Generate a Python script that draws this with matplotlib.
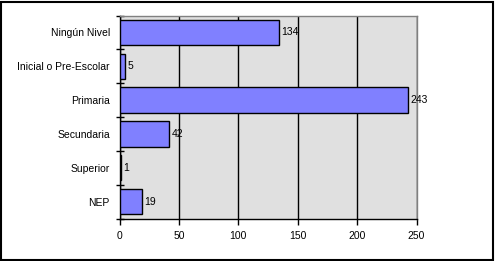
import matplotlib
matplotlib.use("Agg")
import matplotlib.pyplot as plt
from matplotlib.patches import Rectangle

categories = ["Ningún Nivel", "Inicial o Pre-Escolar", "Primaria", "Secundaria", "Superior", "NEP"]
values = [134, 5, 243, 42, 1, 19]

plt.rcParams['font.family'] = ['Liberation Sans', 'DejaVu Sans']
W, H = 495, 261
fig = plt.figure(figsize=(W/100, H/100), dpi=100)
fig.patches.append(Rectangle((1/W, 1/H), (W-3)/W, (H-3)/H, transform=fig.transFigure,
                             fill=False, edgecolor='black', linewidth=1.5))
L, R, T, B = 119.5, 416.5, 15.5, 218.5
ax = fig.add_axes([L/W, 1 - B/H, (R-L)/W, (B-T)/H])
ax.set_facecolor('#E0E0E0')
n = len(categories)
ypos = list(range(n))
ax.barh(ypos, values, height=0.75, color='#8080FF', edgecolor='black', linewidth=1.0, zorder=3)
for y, v in zip(ypos, values):
    ax.text(v + 2, y, str(v), va='center', ha='left', fontsize=7.5, zorder=4)
ax.set_xlim(0, 250)
ax.set_ylim(n - 0.5, -0.5)
ax.set_xticks([0, 50, 100, 150, 200, 250])
ax.tick_params(axis='x', direction='out', length=4, width=1, labelsize=7.5, pad=5)
ax.set_yticks(ypos)
ax.set_yticklabels(categories, fontsize=7.5)
ax.tick_params(axis='y', length=0, pad=7)
# category boundary ticks
ax.set_yticks([i - 0.5 for i in range(n + 1)], minor=True)
ax.tick_params(axis='y', which='minor', direction='inout', length=6, width=1)
ax.xaxis.grid(True, color='black', linewidth=1, zorder=1)
ax.set_axisbelow(True)
for s in ['left', 'bottom']:
    ax.spines[s].set_color('black')
    ax.spines[s].set_linewidth(1)
for s in ['right', 'top']:
    ax.spines[s].set_color('#808080')
    ax.spines[s].set_linewidth(1)
fig.savefig('out.png', dpi=100)
